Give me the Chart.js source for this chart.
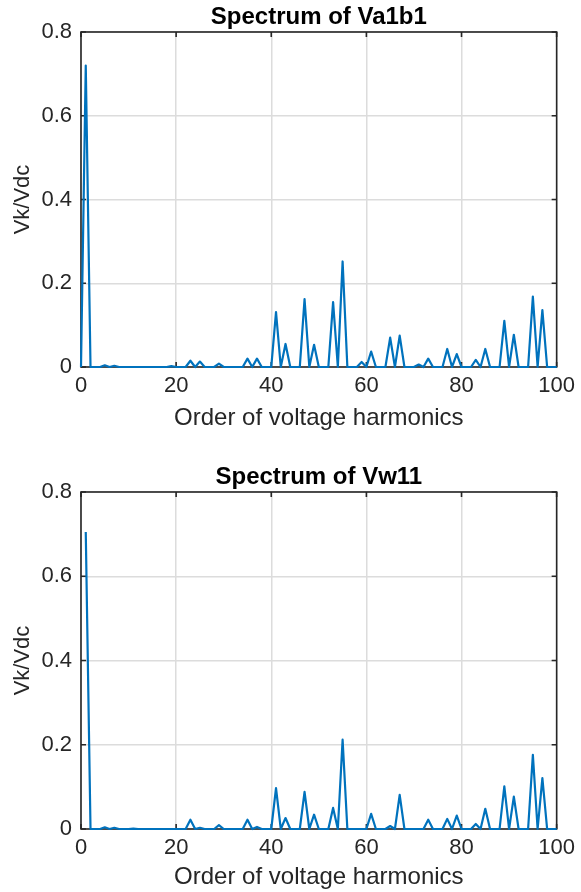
<!DOCTYPE html>
<html>
<head>
<meta charset="utf-8">
<script src="https://cdn.jsdelivr.net/npm/chart.js"></script>
<style>
  body { margin: 0; background: #fff; }
  canvas { position: absolute; left: 0; }
  #graficoTopo { top: 0; }
  #graficoBase { top: 442px; }
</style>
</head>
<body>
<canvas id="graficoTopo" width="581" height="446"></canvas>
<canvas id="graficoBase" width="581" height="450"></canvas>
<script>

// =========================
// DADOS
// =========================

const tituloTopo = "Spectrum of Va1b1";
const tituloBase = "Spectrum of Vw11";

// ordem harmonica 0..100
const ordensTopo = Array.from({ length: 101 }, (_, k) => k);
const valoresTopo = [
    0, 0.72, 0, 0, 0, 0.004, 0, 0.003, 0, 0,
    0, 0, 0, 0, 0, 0, 0, 0, 0, 0.002,
    0, 0, 0, 0.015, 0, 0.013, 0, 0, 0, 0.008,
    0, 0, 0, 0, 0, 0.02, 0, 0.02, 0, 0,
    0, 0.131, 0, 0.055, 0, 0, 0, 0.162, 0, 0.053,
    0, 0, 0, 0.155, 0, 0.252, 0, 0, 0, 0.012,
    0, 0.037, 0, 0, 0, 0.07, 0, 0.075, 0, 0,
    0, 0.006, 0, 0.02, 0, 0, 0, 0.043, 0, 0.031,
    0, 0, 0, 0.017, 0, 0.043, 0, 0, 0, 0.11,
    0, 0.077, 0, 0, 0, 0.168, 0, 0.136, 0, 0,
    0
];

// ordem harmonica 1..100
const ordensBase = Array.from({ length: 100 }, (_, k) => k + 1);
const valoresBase = [
    0.705, 0, 0, 0, 0.004, 0, 0.003, 0, 0, 0,
    0.001, 0, 0, 0, 0, 0, 0, 0, 0, 0,
    0, 0, 0.022, 0, 0.003, 0, 0, 0, 0.009, 0,
    0, 0, 0, 0, 0.022, 0, 0.005, 0, 0, 0,
    0.097, 0, 0.026, 0, 0, 0, 0.088, 0, 0.034, 0,
    0, 0, 0.05, 0, 0.212, 0, 0, 0, 0, 0,
    0.036, 0, 0, 0, 0.007, 0, 0.081, 0, 0, 0,
    0, 0, 0.022, 0, 0, 0, 0.024, 0, 0.032, 0,
    0, 0, 0.012, 0, 0.048, 0, 0, 0, 0.101, 0,
    0.077, 0, 0, 0, 0.176, 0, 0.121, 0, 0, 0
];

const ticksX = [0, 20, 40, 60, 80, 100];
const ticksY = [0, 0.2, 0.4, 0.6, 0.8];

const rotuloX = "Order of voltage harmonics";
const rotuloY = "Vk/Vdc";


// =========================
// CAIXA E TICKS PARA DENTRO
// =========================

const caixaEixos = {
    id: "caixaEixos",
    beforeDatasetsDraw(chart) {
        const { ctx, chartArea: a, scales: { x, y } } = chart;
        ctx.save();
        ctx.strokeStyle = "#262626";
        ctx.lineWidth = 1.6;
        ctx.strokeRect(a.left, a.top, a.right - a.left, a.bottom - a.top);
        ctx.beginPath();
        ticksX.forEach(v => {
            const px = x.getPixelForValue(v);
            ctx.moveTo(px, a.bottom); ctx.lineTo(px, a.bottom - 5);
            ctx.moveTo(px, a.top); ctx.lineTo(px, a.top + 5);
        });
        ticksY.forEach(v => {
            const py = y.getPixelForValue(v);
            ctx.moveTo(a.left, py); ctx.lineTo(a.left + 5, py);
            ctx.moveTo(a.right, py); ctx.lineTo(a.right - 5, py);
        });
        ctx.stroke();
        ctx.restore();
    }
};


// =========================
// GRAFICO
// =========================

const fonte = "'Liberation Sans', Arial, Helvetica, sans-serif";

function criarEspectro(id, titulo, ordens, valores, padTopo, padBase, padDir, alturaX) {

    new Chart(document.getElementById(id), {

        type: "line",

        data: {
            datasets: [{
                data: ordens.map((k, i) => ({ x: k, y: valores[i] })),
                borderColor: "#0072BD",
                borderWidth: 2.2,
                borderJoinStyle: "round",
                pointRadius: 0,
                tension: 0,
                clip: 4
            }]
        },

        options: {
            responsive: false,
            animation: false,
            events: [],
            layout: {
                padding: { top: padTopo, bottom: padBase, left: 0, right: padDir }
            },
            plugins: {
                legend: { display: false },
                tooltip: { enabled: false },
                title: {
                    display: true,
                    text: titulo,
                    fullSize: false,
                    color: "#000",
                    font: { family: fonte, size: 24, weight: "bold" },
                    padding: { top: 3.2, bottom: 0 }
                }
            },
            scales: {
                x: {
                    type: "linear",
                    min: 0,
                    max: 100,
                    afterBuildTicks: s => { s.ticks = ticksX.map(v => ({ value: v })); },
                    afterFit: s => { s.height = alturaX; },
                    border: { display: false },
                    grid: { color: "#dcdcdc", lineWidth: 1.5, drawTicks: false },
                    ticks: {
                        color: "#262626",
                        padding: 6,
                        maxRotation: 0,
                        font: { family: fonte, size: 22 }
                    },
                    title: {
                        display: true,
                        text: rotuloX,
                        color: "#262626",
                        font: { family: fonte, size: 24 },
                        padding: { top: 0, bottom: 0 }
                    }
                },
                y: {
                    min: 0,
                    max: 0.8,
                    afterBuildTicks: s => { s.ticks = ticksY.map(v => ({ value: v })); },
                    afterFit: s => { s.width = 81; },
                    border: { display: false },
                    grid: { color: "#dcdcdc", lineWidth: 1.5, drawTicks: false },
                    ticks: {
                        color: "#262626",
                        padding: 9,
                        font: { family: fonte, size: 22 }
                    },
                    title: {
                        display: true,
                        text: rotuloY,
                        color: "#262626",
                        font: { family: fonte, size: 22 },
                        padding: { top: 10, bottom: 0 }
                    }
                }
            }
        },

        plugins: [caixaEixos]

    });

}

criarEspectro("graficoTopo", tituloTopo, ordensTopo, valoresTopo, 0, 13, 21, 66);
criarEspectro("graficoBase", tituloBase, ordensBase, valoresBase, 18, 0, 20, 63);

</script>
</body>
</html>
